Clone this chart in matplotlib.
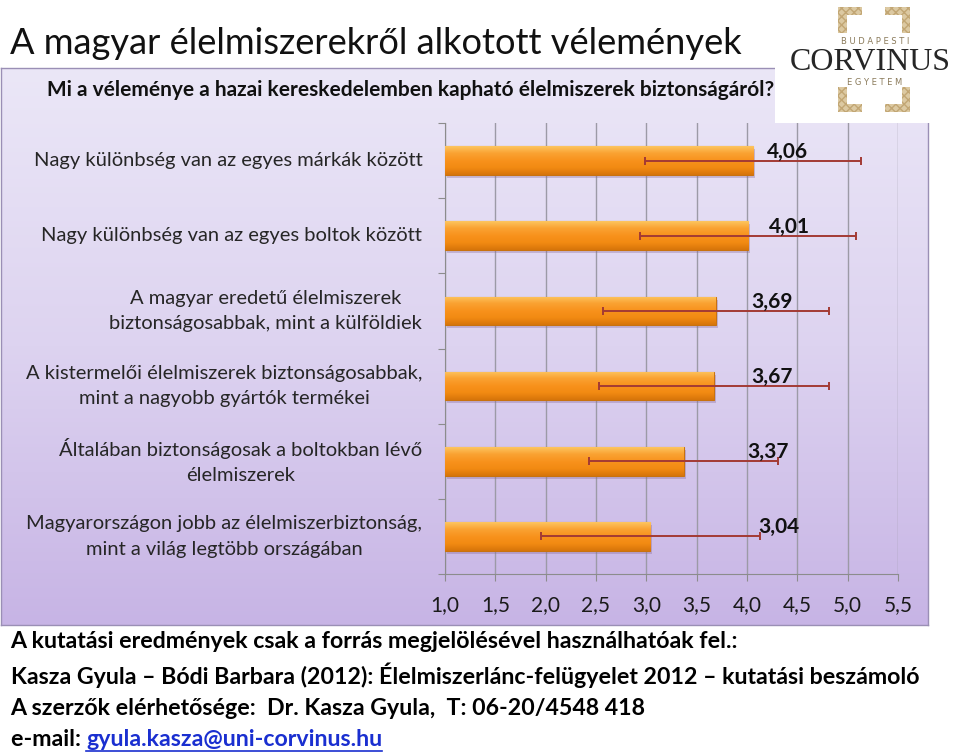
import numpy as np
import matplotlib
matplotlib.use("Agg")
import matplotlib.pyplot as plt
from matplotlib.patches import Rectangle
from matplotlib.colors import LinearSegmentedColormap

plt.rcParams["font.family"] = ["Lato", "DejaVu Sans"]

# Data
categories = [
    "Nagy különbség van az egyes márkák között",
    "Nagy különbség van az egyes boltok között",
    "A magyar eredetű élelmiszerek\nbiztonságosabbak, mint a külföldiek",
    "A kistermelői élelmiszerek biztonságosabbak,\nmint a nagyobb gyártók termékei",
    "Általában biztonságosak a boltokban lévő\nélelmiszerek",
    "Magyarországon jobb az élelmiszerbiztonság,\nmint a világ legtöbb országában",
]
means = [4.06, 4.01, 3.69, 3.67, 3.37, 3.04]
errors = [1.07, 1.07, 1.12, 1.14, 0.94, 1.09]
value_labels = ["4,06", "4,01", "3,69", "3,67", "3,37", "3,04"]
xticks = [1.0, 1.5, 2.0, 2.5, 3.0, 3.5, 4.0, 4.5, 5.0, 5.5]
xtick_labels = ["1,0", "1,5", "2,0", "2,5", "3,0", "3,5", "4,0", "4,5", "5,0", "5,5"]

# label placement (x in data units)
label_x = [4.40, 4.42, 4.25, 4.25, 4.21, 4.32]

footer = [
    "A kutatási eredmények csak a forrás megjelölésével használhatóak fel.:",
    "Kasza Gyula – Bódi Barbara (2012): Élelmiszerlánc-felügyelet 2012 – kutatási beszámoló",
    "A szerzők elérhetősége:  Dr. Kasza Gyula,  T: 06-20/4548 418",
]

fig = plt.figure(figsize=(9.6, 7.55), dpi=100)
fig.patch.set_facecolor("white")

# purple gradient panel
bg = fig.add_axes([0.001, 0.172, 0.966, 0.738], zorder=0)
grad = np.linspace(0, 1, 256).reshape(-1, 1)
bg_cmap = LinearSegmentedColormap.from_list("bg", ["#ebe7f7", "#ddd3f0", "#c7b4e5"])
bg.imshow(grad, aspect="auto", cmap=bg_cmap, extent=[0, 1, 0, 1], origin="upper")
bg.set_xticks([])
bg.set_yticks([])
for s in bg.spines.values():
    s.set_color("#9a8fb5")
    s.set_linewidth(1)

# chart axes
ax = fig.add_axes([0.4635, 0.2397, 0.4719, 0.5974], zorder=2)
ax.patch.set_alpha(0)
y = np.arange(len(categories))

bars = ax.barh(y, [m - 1.0 for m in means], left=1.0, height=0.38,
               color="#f7941e", edgecolor="#c8720f", linewidth=0.8, zorder=3)

bar_cmap = LinearSegmentedColormap.from_list(
    "bar", ["#fdc660", "#faa232", "#f8921c", "#f28a12", "#d6740a"])
for b in bars:
    x0, y0 = b.get_x(), b.get_y()
    w, h = b.get_width(), b.get_height()
    # shadow
    ax.add_patch(Rectangle((x0 + 0.02, y0 + 0.04), w, h, color="#8a6a9a",
                           alpha=0.35, zorder=2.5, linewidth=0))
    im = ax.imshow(grad, aspect="auto", cmap=bar_cmap,
                   extent=[x0, x0 + w, y0 + h, y0], origin="upper", zorder=3.5)
    im.set_clip_path(b)

ax.errorbar(means, y, xerr=errors, fmt="none", ecolor="#a33a34",
            elinewidth=1.4, capsize=3, capthick=1.4, zorder=5)

for i, lab in enumerate(value_labels):
    ax.text(label_x[i], y[i] - 0.12, lab, ha="center", va="center",
            fontsize=15, fontweight="bold", color="#111111", zorder=6)

ax.set_xlim(1.0, 5.5)
ax.set_ylim(len(categories) - 0.5, -0.5)
ax.set_xticks(xticks)
ax.set_xticklabels(xtick_labels, fontsize=15, color="#1a1a1a")
ax.set_yticks(np.arange(len(categories) + 1) - 0.5)
ax.set_yticklabels([])
ax.tick_params(axis="y", length=5, color="#8c8c8c", direction="out")
ax.tick_params(axis="x", length=5, color="#8c8c8c", direction="out", pad=10)
ax.grid(axis="x", color="#9c9aa6", linewidth=1, zorder=1)
ax.set_axisbelow(True)
for s in ["top", "right"]:
    ax.spines[s].set_visible(False)
ax.spines["left"].set_color("#8c8c8c")
ax.spines["bottom"].set_color("#8c8c8c")

for i, cat in enumerate(categories):
    ax.text(-0.05, y[i], cat, transform=ax.get_yaxis_transform(),
            ha="right", va="center", multialignment="center",
            fontsize=14.5, color="#262626", linespacing=1.6)

# titles
fig.text(0.01, 0.942, "A magyar élelmiszerekről alkotott vélemények",
         fontsize=26.1, color="#111111", va="center", ha="left")
fig.text(0.049, 0.881, "Mi a véleménye a hazai kereskedelemben kapható élelmiszerek biztonságáról?",
         fontsize=15, fontweight="bold", color="#111111", va="center", ha="left")

# logo
logo = fig.add_axes([0.807, 0.837, 0.193, 0.163], zorder=5)
logo.set_xlim(0, 1)
logo.set_ylim(0, 1)
logo.set_facecolor("white")
logo.set_xticks([])
logo.set_yticks([])
for s in logo.spines.values():
    s.set_visible(False)
tan = "#dcc9a2"
ornaments = [
    # (x, y, w, h) in logo axes fraction
    (0.34, 0.878, 0.13, 0.065), (0.34, 0.732, 0.049, 0.211),
    (0.595, 0.878, 0.135, 0.065), (0.686, 0.732, 0.044, 0.211),
    (0.34, 0.09, 0.13, 0.065), (0.34, 0.09, 0.049, 0.203),
    (0.595, 0.09, 0.135, 0.065), (0.686, 0.09, 0.044, 0.203),
]
for (ox, oy, ow, oh) in ornaments:
    logo.add_patch(Rectangle((ox, oy), ow, oh, facecolor=tan, edgecolor="#c2a674",
                             hatch="xxxx", linewidth=0))
logo.text(0.54, 0.665, "B U D A P E S T I", ha="center", va="center", fontsize=6,
          color="#8a7a5a", family="DejaVu Sans")
logo.text(0.514, 0.43, "CORVINUS", ha="center", va="baseline", fontsize=23,
          color="#262626", family="Liberation Serif")
logo.text(0.54, 0.33, "E G Y E T E M", ha="center", va="center", fontsize=6,
          color="#8a7a5a", family="DejaVu Sans")

# footer
fs = 16.7
ys = [0.150, 0.105, 0.062, 0.021]
for t, yy in zip(footer, ys):
    fig.text(0.011, yy, t, fontsize=fs, fontweight="bold", color="#000000", va="center")
tx = fig.text(0.011, ys[3], "e-mail: ", fontsize=fs, fontweight="bold", color="#000000", va="center")
fig.canvas.draw()
bb = tx.get_window_extent()
link = fig.text(bb.x1 / fig.bbox.width, ys[3], "gyula.kasza@uni-corvinus.hu",
                fontsize=fs, fontweight="bold", color="#1a2fd0", va="center")
fig.canvas.draw()
lb = link.get_window_extent()
fig.add_artist(plt.Line2D([lb.x0 / fig.bbox.width, lb.x1 / fig.bbox.width],
                          [(lb.y0 - 1) / fig.bbox.height] * 2, color="#1a2fd0", linewidth=1.2))

fig.savefig("out.png", dpi=100)
